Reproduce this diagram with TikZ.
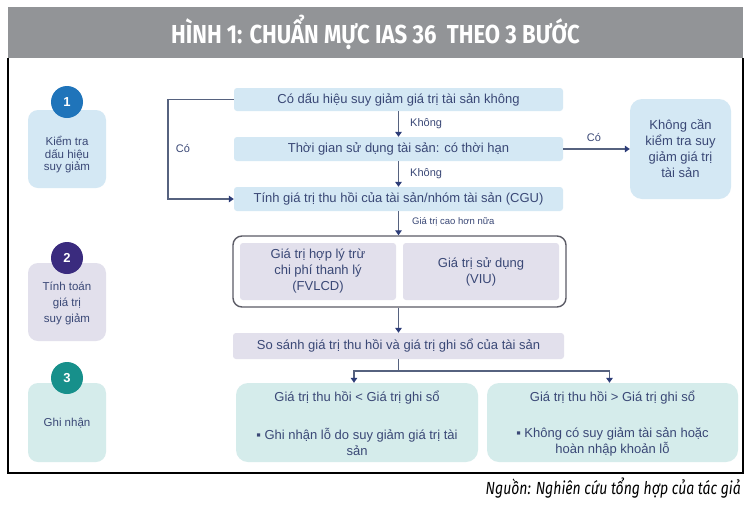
\documentclass[tikz,border=0pt]{standalone}
\usepackage{fontspec}
\setmainfont{Liberation Sans}
\newfontfamily\condfont[FakeStretch=0.85]{Fira Sans}
\newfontfamily\srcfont[FakeStretch=0.8]{Fira Sans}
\usetikzlibrary{arrows.meta}
\definecolor{titlegray}{HTML}{929497}
\definecolor{lblue}{HTML}{D4E8F4}
\definecolor{lpurple}{HTML}{E2E0EC}
\definecolor{lteal}{HTML}{D5ECEB}
\definecolor{cblue}{HTML}{1F74BA}
\definecolor{cpurple}{HTML}{3A2B7E}
\definecolor{cteal}{HTML}{17908B}
\definecolor{txt}{HTML}{3A4876}
\definecolor{lnc}{HTML}{56627F}
\definecolor{arrc}{HTML}{2D3D78}
\definecolor{grpc}{HTML}{5C5C66}
\begin{document}
\begin{tikzpicture}[x=1pt,y=-1pt,
  box/.style={rounded corners=3pt, inner sep=1pt, align=center, text=txt,
    font=\fontsize{13}{16}\selectfont},
  flow/.style={box, fill=lblue, minimum width=329pt, minimum height=23pt},
  stepbox/.style={rounded corners=10pt, minimum width=78pt, minimum height=78pt},
  steptext/.style={align=center, text=txt, inner sep=0pt},
  stepnum/.style={circle, minimum size=32pt, inner sep=0pt, text=white,
    font=\bfseries\fontsize{13}{15}\selectfont},
  lbl/.style={text=txt, inner sep=0pt, font=\fontsize{11}{12}\selectfont},
  conn/.style={draw=lnc, line width=1.6pt},
  arr/.style={conn, -{Triangle[width=6.5pt,length=5pt,color=arrc]}}
]
\useasboundingbox (0,0) rectangle (752,504);
\fill[white] (0,0) rectangle (752,504);

% title and frame
\node[fill=titlegray, minimum width=735pt, minimum height=51pt, inner sep=0pt,
  text=white, font=\condfont\bfseries\fontsize{26}{29}\selectfont]
  (title) at (375.5,32.5) {HÌNH 1: CHUẨN MỰC IAS 36~ THEO 3 BƯỚC};
\draw[line width=1.5pt] (8,58) -- (8,473) -- (743,473) -- (743,58);
\node[anchor=east, inner sep=0pt, font=\srcfont\itshape\fontsize{17.5}{20}\selectfont]
  (src) at (741,488) {Nguồn: Nghiên cứu tổng hợp của tác giả};

% step column
\node[stepbox, fill=lblue] (s1) at (67,149) {};
\node[steptext, font=\fontsize{11.5}{12.5}\selectfont] (s1t) at (67,155) {Kiểm tra\\dấu hiệu\\suy giảm};
\node[stepnum, fill=cblue] (n1) at (67,102) {1};

\node[stepbox, fill=lpurple] (s2) at (67,302) {};
\node[steptext, font=\fontsize{11.5}{16}\selectfont] (s2t) at (67,303) {Tính toán\\giá trị\\suy giảm};
\node[stepnum, fill=cpurple] (n2) at (67,258) {2};

\node[stepbox, fill=lteal, minimum height=79pt] (s3) at (67,422.5) {};
\node[steptext, font=\fontsize{11.5}{16}\selectfont] (s3t) at (67,423) {Ghi nhận};
\node[stepnum, fill=cteal] (n3) at (67,378) {3};

% main flow
\node[flow] (A) at (398.5,99.5) {Có dấu hiệu suy giảm giá trị tài sản không};
\node[flow, minimum height=24pt] (B) at (398.5,149) {Thời gian sử dụng tài sản: có thời hạn};
\node[flow, minimum height=24pt] (C) at (398.5,199) {Tính giá trị thu hồi của tài sản/nhóm tài sản (CGU)};
\node[box, fill=lblue, rounded corners=12pt, minimum width=101pt, minimum height=100pt]
  (D) at (680.5,149) {Không cần\\kiểm tra suy\\giảm giá trị\\tài sản};

\node[draw=grpc, line width=1.4pt, rounded corners=9pt, fill=white,
  minimum width=333pt, minimum height=71pt] (grp) at (399.5,271.5) {};
\node[box, fill=lpurple, minimum width=156pt, minimum height=57pt] (E) at (318,271.5)
  {Giá trị hợp lý trừ\\chi phí thanh lý\\(FVLCD)};
\node[box, fill=lpurple, minimum width=156pt, minimum height=57pt] (F) at (481,271.5)
  {Giá trị sử dụng\\(VIU)};

\node[box, fill=lpurple, minimum width=331pt, minimum height=26pt] (G) at (398.5,346)
  {So sánh giá trị thu hồi và giá trị ghi sổ của tài sản};

\node[box, fill=lteal, rounded corners=12pt, minimum width=242pt, minimum height=79pt] (H) at (357,422.5) {};
\node[steptext, font=\fontsize{13}{16}\selectfont] (Ht) at (357,398) {Giá trị thu hồi < Giá trị ghi sổ};
\node[steptext, font=\fontsize{13}{16}\selectfont] (Hb) at (357,442) {▪ Ghi nhận lỗ do suy giảm giá trị tài\\sản};

\node[box, fill=lteal, rounded corners=12pt, minimum width=251pt, minimum height=79pt] (I) at (612.5,422.5) {};
\node[steptext, font=\fontsize{13}{16}\selectfont] (It) at (612.5,398) {Giá trị thu hồi > Giá trị ghi sổ};
\node[steptext, font=\fontsize{13}{16}\selectfont] (Ib) at (612.5,442) {▪ Không có suy giảm tài sản hoặc\\hoàn nhập khoản lỗ};

% connectors
\draw[arr] (A.south) -- (B.north);
\node[lbl, anchor=west] (l1) at (410,124) {Không};
\draw[arr] (B.south) -- (C.north);
\node[lbl, anchor=west] (l2) at (410,174) {Không};
\draw[arr] (C.south) -- (grp.north -| C.south);
\node[lbl, anchor=west, font=\fontsize{9.5}{10}\selectfont] (l3) at (412,222) {Giá trị cao hơn nữa};
\draw[arr] (grp.south -| G.north) -- (G.north);

\coordinate (c1) at (168,99.5);
\coordinate (c2) at (168,199);
\draw[arr] (A.west) -- (c1) -- (c2) -- (C.west);
\node[lbl] (l4) at (183,148) {Có};

\draw[arr] (B.east) -- (B.east -| D.west);
\node[lbl] (l5) at (594,137) {Có};

\coordinate (j) at (398.5,371);
\draw[conn] (G.south) -- (j);
\draw[arr] (j) -| ([xshift=-3pt]H.north);
\draw[arr] (j) -| ([xshift=-3pt]I.north);
\end{tikzpicture}
\end{document}
